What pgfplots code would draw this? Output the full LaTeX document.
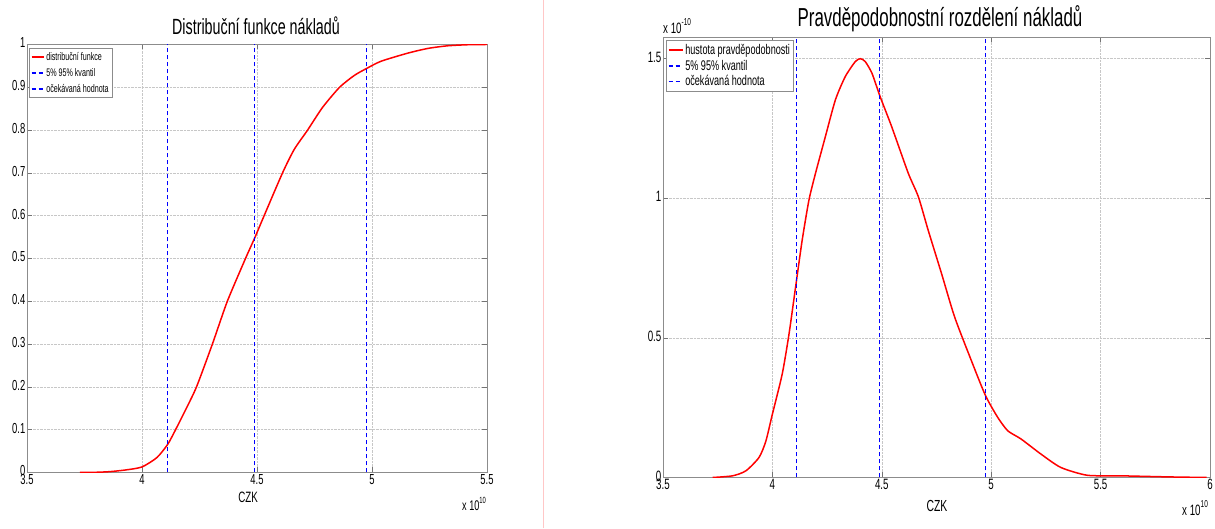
\documentclass[border=0pt]{standalone}
\usepackage{fontspec}
\setmainfont{Liberation Sans}
\usepackage{graphicx}
\usepackage{pgfplots}
\pgfplotsset{compat=1.18}

% MATLAB fonts look narrow in the reference
\newcommand{\nrw}[1]{\scalebox{0.65}[1]{#1}}

\definecolor{mred}{RGB}{255,0,0}
\definecolor{mblue}{RGB}{0,0,255}

\pgfplotsset{
  matlab/.style={
    scale only axis,
    anchor=south west,
    axis line style={black!45, line width=0.8pt},
    tick style={black!55, line width=0.6pt},
    tick align=inside,
    major tick length=5pt,
    grid=major,
    major grid style={densely dotted, black!22, line width=0.6pt},
    tick label style={inner sep=1.5pt},
    xticklabel={\nrw{\pgfmathprintnumber{\tick}}},
    yticklabel={\nrw{\pgfmathprintnumber{\tick}}},
    /pgf/number format/assume math mode=true,
    unbounded coords=jump,
    legend style={draw=black!45, line width=0.6pt, inner sep=1.5pt,
      cells={anchor=west}, legend cell align=left},
  },
  curve/.style={draw=mred, solid, line width=1.5pt},
  qline/.style={draw=mblue, line width=1.4pt, dash pattern=on 4.5pt off 2.5pt},
}

\begin{document}
\begin{tikzpicture}
\path (0pt,0pt) rectangle (1215pt,528pt);

% left: distribution function
\begin{axis}[matlab,
  at={(27pt,56pt)}, width=460pt, height=428pt,
  xmin=3.5, xmax=5.5, ymin=0, ymax=1,
  xtick={3.5,4,4.5,5,5.5},
  ytick={0,0.1,0.2,0.3,0.4,0.5,0.6,0.7,0.8,0.9,1},
  tick label style={font=\fontsize{14.5}{16}\selectfont},
  yticklabel style={yshift=1.5pt},
  legend style={at={(0,1)}, anchor=north west, xshift=2pt, yshift=-4pt,
    font=\fontsize{11}{12}\selectfont, row sep=2.5pt},
  legend image code/.code={\draw[#1] (0pt,0pt) -- (12pt,0pt);},
]
\addplot[curve, smooth, tension=0.4] coordinates {
  (3.73,0) (3.80,0.0005) (3.86,0.002) (3.93,0.006) (4.00,0.013)
  (4.065,0.035) (4.112,0.066) (4.146,0.10) (4.190,0.147) (4.237,0.20)
  (4.306,0.30) (4.371,0.40) (4.45,0.50) (4.49,0.548) (4.531,0.60)
  (4.611,0.70) (4.662,0.755) (4.72,0.80) (4.785,0.853) (4.859,0.90)
  (4.924,0.928) (4.98,0.945) (5.04,0.961) (5.157,0.98) (5.245,0.991)
  (5.33,0.997) (5.42,0.9995) (5.50,1.0)
};
\addlegendentry{\nrw{distribuční funkce}}
\addplot[qline] coordinates {(4.11,0) (4.11,1) (nan,nan) (4.975,0) (4.975,1)};
\addlegendentry{\nrw{5\% 95\% kvantil}}
\addplot[qline] coordinates {(4.49,0) (4.49,1)};
\addlegendentry{\nrw{očekávaná hodnota}}
\end{axis}

% right: density
\begin{axis}[matlab,
  at={(663pt,51pt)}, width=547pt, height=440pt,
  xmin=3.5, xmax=6, ymin=0, ymax=1.575,
  xtick={3.5,4,4.5,5,5.5,6},
  ytick={0,0.5,1,1.5},
  tick label style={font=\fontsize{15}{17}\selectfont},
  yticklabel style={yshift=1.5pt},
  legend style={at={(0,1)}, anchor=north west, xshift=3pt, yshift=-3pt,
    font=\fontsize{14}{15}\selectfont, row sep=0pt},
  legend image code/.code={\draw[#1] (0pt,0pt) -- (14pt,0pt);},
]
\addplot[curve, smooth, tension=0.4] coordinates {
  (3.727,0) (3.818,0.006) (3.879,0.024) (3.939,0.072) (3.97,0.13)
  (4.0,0.227) (4.045,0.371) (4.076,0.514) (4.106,0.682) (4.136,0.849)
  (4.167,0.993) (4.197,1.089) (4.242,1.22) (4.288,1.352) (4.333,1.435)
  (4.379,1.489) (4.402,1.499) (4.424,1.489) (4.455,1.447) (4.492,1.364)
  (4.545,1.256) (4.621,1.089) (4.667,1.005) (4.712,0.885) (4.773,0.730)
  (4.833,0.574) (4.909,0.419) (4.974,0.293) (5.03,0.215) (5.076,0.167)
  (5.136,0.138) (5.227,0.084) (5.318,0.036) (5.439,0.008) (5.591,0.006)
  (5.818,0.002) (5.985,0)
};
\addlegendentry{\nrw{hustota pravděpodobnosti}}
\addplot[qline] coordinates {(4.11,0) (4.11,1.575) (nan,nan) (4.975,0) (4.975,1.575)};
\addlegendentry{\nrw{5\% 95\% kvantil}}
\addplot[qline] coordinates {(4.49,0) (4.49,1.575)};
\addlegendentry{\nrw{očekávaná hodnota}}
\end{axis}

% separator, titles, labels and exponents
\draw[red!22, line width=1pt] (543pt,0pt) -- (543pt,528pt);
\node[font=\fontsize{22}{24}\selectfont] at (256pt,503pt) {\nrw{Distribuční funkce nákladů}};
\node[font=\fontsize{26}{28}\selectfont] at (940pt,510pt) {\nrw{Pravděpodobnostní rozdělení nákladů}};
\node[font=\fontsize{15}{17}\selectfont] at (248pt,31pt) {\nrw{CZK}};
\node[font=\fontsize{16}{18}\selectfont] at (937pt,23pt) {\nrw{CZK}};
\node[font=\fontsize{14}{16}\selectfont, anchor=base west, inner sep=0pt]
  at (462pt,18pt) {\nrw{x 10\raisebox{7pt}{\fontsize{9}{10}\selectfont 10}}};
\node[font=\fontsize{15}{17}\selectfont, anchor=base west, inner sep=0pt]
  at (1182pt,13pt) {\nrw{x 10\raisebox{8pt}{\fontsize{10}{11}\selectfont 10}}};
\node[font=\fontsize{15}{17}\selectfont, anchor=base west, inner sep=0pt]
  at (663pt,495pt) {\nrw{x 10\raisebox{8pt}{\fontsize{10}{11}\selectfont -10}}};
\end{tikzpicture}
\end{document}
